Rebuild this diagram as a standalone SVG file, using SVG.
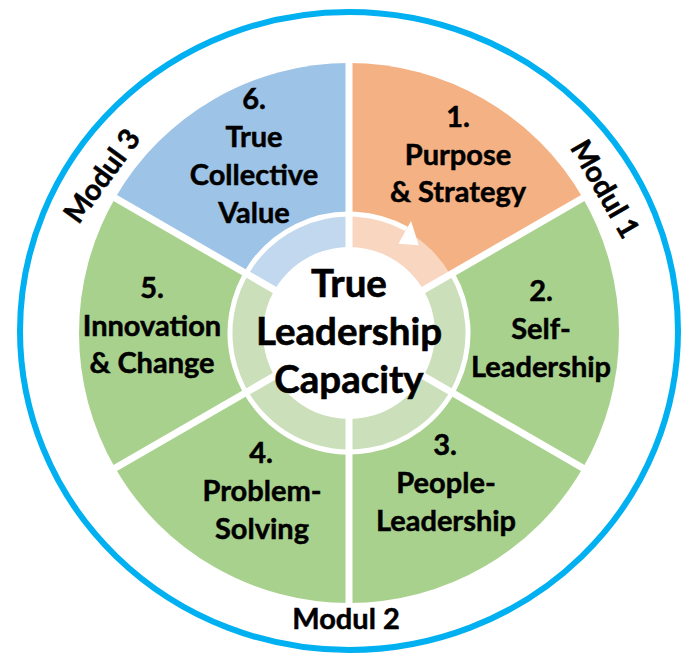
<svg xmlns="http://www.w3.org/2000/svg" width="689" height="655" viewBox="0 0 689 655">
<style>
.lbl{font-family:Lato,"Liberation Sans",sans-serif;font-weight:bold;font-size:29px;fill:#000;stroke:#000;stroke-width:0.5;text-anchor:middle}
.ctr{font-family:Lato,"Liberation Sans",sans-serif;font-weight:bold;font-size:38.5px;fill:#000;stroke:#000;stroke-width:0.6;text-anchor:middle}
.mod{font-family:Lato,"Liberation Sans",sans-serif;font-weight:bold;font-size:29px;fill:#000;stroke:#000;stroke-width:0.5;text-anchor:middle}
.div{stroke:#fff;stroke-width:7;fill:none}
</style>
<rect width="689" height="655" fill="#fff"/>
<ellipse cx="349" cy="331" rx="329" ry="319" fill="none" stroke="#00B0F0" stroke-width="6"/>
<g id="sector1">
<path d="M349 333 L349 63 A270 270 0 0 1 582.83 198 Z" fill="#F4B183"/>
<path d="M349 333 L349 216 A117 117 0 0 1 450.32 274.5 Z" fill="#F8D6C0"/>
</g>
<g id="sector2">
<path d="M349 333 L582.83 198 A270 270 0 0 1 582.83 468 Z" fill="#A9D18E"/>
<path d="M349 333 L450.32 274.5 A117 117 0 0 1 450.32 391.5 Z" fill="#CADFBA"/>
</g>
<g id="sector3">
<path d="M349 333 L582.83 468 A270 270 0 0 1 349 603 Z" fill="#A9D18E"/>
<path d="M349 333 L450.32 391.5 A117 117 0 0 1 349 450 Z" fill="#CADFBA"/>
</g>
<g id="sector4">
<path d="M349 333 L349 603 A270 270 0 0 1 115.17 468 Z" fill="#A9D18E"/>
<path d="M349 333 L349 450 A117 117 0 0 1 247.68 391.5 Z" fill="#CADFBA"/>
</g>
<g id="sector5">
<path d="M349 333 L115.17 468 A270 270 0 0 1 115.17 198 Z" fill="#A9D18E"/>
<path d="M349 333 L247.68 391.5 A117 117 0 0 1 247.68 274.5 Z" fill="#CADFBA"/>
</g>
<g id="sector6">
<path d="M349 333 L115.17 198 A270 270 0 0 1 349 63 Z" fill="#9DC3E6"/>
<path d="M349 333 L247.68 274.5 A117 117 0 0 1 349 216 Z" fill="#C2D8EE"/>
</g>
<g id="cycle-arrow">
<path d="M452.06 273.5 A119 119 0 1 1 406.69 228.92" fill="none" stroke="#fff" stroke-width="5"/>
<polygon points="411.06,221.05 398.45,243.79 418.72,245.35" fill="#fff"/>
</g>
<g id="connectors">
<line class="div" x1="349" y1="333" x2="349" y2="60"/>
<line class="div" x1="349" y1="333" x2="349" y2="606"/>
<line class="div" x1="349" y1="333" x2="585.4" y2="196.5"/>
<line class="div" x1="349" y1="333" x2="585.4" y2="469.5"/>
<line class="div" x1="349" y1="333" x2="112.6" y2="196.5"/>
<line class="div" x1="349" y1="333" x2="112.6" y2="469.5"/>
</g>
<g id="center">
<circle cx="349" cy="333" r="86" fill="#fff"/>
<text class="ctr" x="349" y="297">True</text>
<text class="ctr" x="349" y="345">Leadership</text>
<text class="ctr" x="349" y="393">Capacity</text>
</g>
<g id="label1">
<text class="lbl" x="458" y="127">1.</text>
<text class="lbl" x="458" y="165">Purpose</text>
<text class="lbl" x="458" y="202">&amp; Strategy</text>
</g>
<g id="label2">
<text class="lbl" x="541" y="301">2.</text>
<text class="lbl" x="541" y="339">Self-</text>
<text class="lbl" x="541" y="377">Leadership</text>
</g>
<g id="label3">
<text class="lbl" x="445" y="455">3.</text>
<text class="lbl" x="446" y="493">People-</text>
<text class="lbl" x="446" y="531">Leadership</text>
</g>
<g id="label4">
<text class="lbl" x="261" y="463">4.</text>
<text class="lbl" x="262" y="501">Problem-</text>
<text class="lbl" x="262" y="539">Solving</text>
</g>
<g id="label5">
<text class="lbl" x="152" y="298">5.</text>
<text class="lbl" x="152" y="336">Innovation</text>
<text class="lbl" x="152" y="373">&amp; Change</text>
</g>
<g id="label6">
<text class="lbl" x="254" y="109">6.</text>
<text class="lbl" x="254" y="147">True</text>
<text class="lbl" x="254" y="185">Collective</text>
<text class="lbl" x="254" y="223">Value</text>
</g>
<g id="modules">
<text class="mod" transform="translate(605,189) rotate(60)" y="10">Modul 1</text>
<text class="mod" x="346" y="629">Modul 2</text>
<text class="mod" transform="translate(102,176) rotate(-54)" y="10">Modul 3</text>
</g>
</svg>
